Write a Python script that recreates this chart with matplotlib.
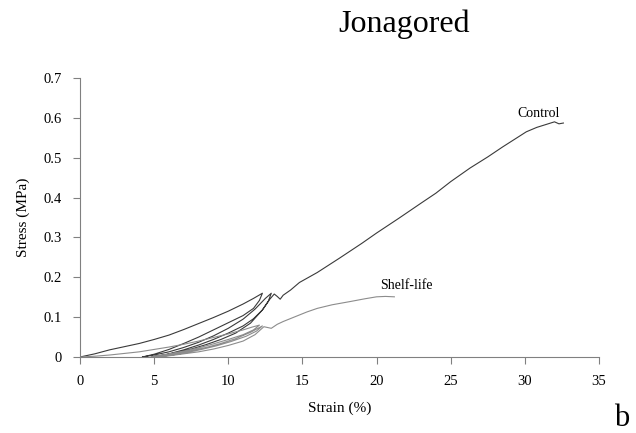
import matplotlib.pyplot as plt

plt.rcParams['font.family'] = ['Liberation Serif', 'DejaVu Serif']

# Control : cycles de charge / décharge puis chargement jusqu'à rupture
control_x = [0, 1, 2, 3, 4, 5, 6, 7, 8, 9, 10, 11, 11.7, 12.3,
             12.1, 11.7, 11.0, 10.0, 9.0, 8.0, 7.0, 6.0, 5.0, 4.2,
             5, 6, 7, 8, 9, 10, 11, 11.8, 12.5, 12.9,
             12.7, 12.3, 11.7, 11.0, 10.0, 9.0, 8.0, 7.0, 5.8, 4.8,
             5.5, 6.5, 7.5, 8.5, 9.5, 10.5, 11.5, 12.3, 12.8, 13.1,
             13.3, 13.5, 13.7, 14.2, 14.8, 16, 17.5, 19, 20, 21.5, 23,
             24, 25, 26.3, 27.5, 28.5, 29.3, 30.1, 30.8, 31.4, 32.0, 32.3, 32.6]
control_y = [0, 0.008, 0.018, 0.026, 0.034, 0.044, 0.055, 0.069, 0.084, 0.099, 0.115, 0.133, 0.147, 0.160,
             0.142, 0.122, 0.104, 0.086, 0.068, 0.050, 0.034, 0.019, 0.007, 0.0,
             0.005, 0.013, 0.024, 0.037, 0.053, 0.072, 0.095, 0.120, 0.147, 0.160,
             0.140, 0.118, 0.096, 0.078, 0.060, 0.044, 0.030, 0.018, 0.006, 0.0,
             0.004, 0.011, 0.020, 0.031, 0.044, 0.060, 0.085, 0.118, 0.145, 0.158,
             0.152, 0.145, 0.155, 0.168, 0.187, 0.212, 0.248, 0.285, 0.311, 0.348, 0.386,
             0.411, 0.440, 0.474, 0.502, 0.527, 0.546, 0.565, 0.576, 0.583, 0.590, 0.585, 0.587]

# Shelf-life
shelf_x = [0, 1, 2, 3, 4, 5, 6, 7, 8, 9, 10, 11, 11.6, 12.1,
           11.7, 11.0, 10.0, 9.0, 8.0, 7.0, 6.0, 5.2, 4.8,
           5.5, 6.5, 7.5, 8.5, 9.5, 10.5, 11.5, 12.3,
           11.9, 11.2, 10.2, 9.2, 8.2, 7.2, 6.2, 5.2,
           6, 7, 8, 9, 10, 11, 11.8, 12.4, 12.9, 13.3, 13.7,
           14.5, 15.3, 16.0, 17.0, 18.2, 19.2, 20.0, 20.6, 21.2]
shelf_y = [0, 0.002, 0.005, 0.009, 0.013, 0.019, 0.025, 0.032, 0.040, 0.049, 0.058, 0.068, 0.075, 0.080,
           0.068, 0.056, 0.044, 0.033, 0.023, 0.015, 0.008, 0.003, 0.0,
           0.003, 0.009, 0.016, 0.024, 0.034, 0.046, 0.062, 0.078,
           0.065, 0.052, 0.039, 0.028, 0.019, 0.011, 0.005, 0.0,
           0.003, 0.008, 0.013, 0.020, 0.029, 0.040, 0.056, 0.076, 0.072, 0.082, 0.089,
           0.101, 0.113, 0.122, 0.131, 0.139, 0.146, 0.151, 0.152, 0.151]

x_ticks = [0, 5, 10, 15, 20, 25, 30, 35]
y_ticks = [0, 0.1, 0.2, 0.3, 0.4, 0.5, 0.6, 0.7]
y_labels = ['0', '0.1', '0.2', '0.3', '0.4', '0.5', '0.6', '0.7']

fig = plt.figure(figsize=(6.36, 4.33), dpi=100)
ax = fig.add_axes([0.1258, 0.1755, 0.816, 0.6444])

ax.plot(control_x, control_y, color='#3a3a3a', lw=0.8)
ax.plot(shelf_x, shelf_y, color='#8c8c8c', lw=0.8)

ax.text(30.9, 0.612, 'Control', ha='center', va='center', fontsize=10)
ax.text(22.0, 0.18, 'Shelf-life', ha='center', va='center', fontsize=10)

ax.set_xlim(0, 35)
ax.set_ylim(0, 0.7)
ax.set_xticks(x_ticks)
ax.set_yticks(y_ticks)
ax.set_yticklabels(y_labels)
ax.tick_params(direction='out', length=5, width=0.8, color='#808080', labelsize=10.5, pad=8)
for s in ['top', 'right']:
    ax.spines[s].set_visible(False)
for s in ['left', 'bottom']:
    ax.spines[s].set_color('#808080')
    ax.spines[s].set_linewidth(0.8)

ax.set_xlabel('Strain (%)', fontsize=11, labelpad=10)
ax.set_ylabel('Stress (MPa)', fontsize=11, labelpad=10)

fig.text(0.635, 0.926, 'Jonagored', ha='center', va='baseline', fontsize=23)
fig.text(0.978, 0.0, 'b', ha='center', va='bottom', fontsize=22)

fig.savefig('out.png', dpi=100)
